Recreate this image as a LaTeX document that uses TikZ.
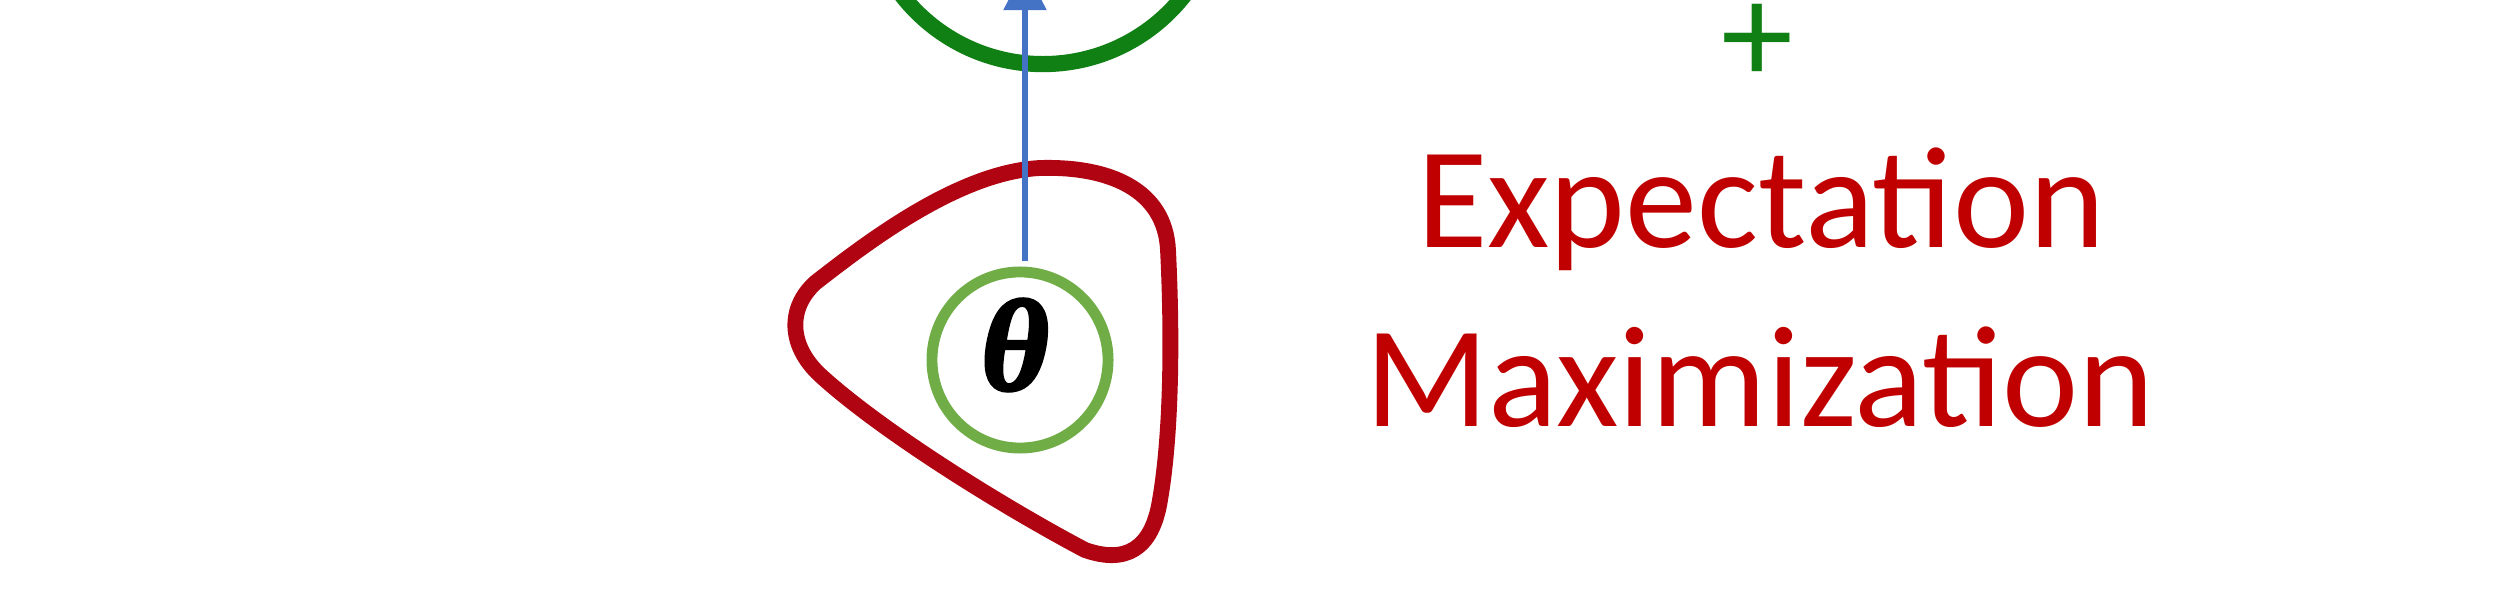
\documentclass[tikz,border=0pt]{standalone}
\usepackage{amsmath}
\usepackage{fontspec}
\newfontfamily\calfont{Carlito}
\newfontfamily\grkfont[BoldItalicFeatures={FakeBold=2.5}]{Liberation Serif}
\usetikzlibrary{arrows.meta,positioning}
\definecolor{ringgreen}{RGB}{16,128,20}
\definecolor{leafgreen}{RGB}{112,173,71}
\definecolor{emred}{RGB}{192,0,0}
\definecolor{blobred}{RGB}{176,4,18}
\definecolor{arrblue}{RGB}{68,114,196}

\begin{document}
\begin{tikzpicture}[
                x=0.01cm, y=0.01cm,
                bigring/.style={circle, draw=ringgreen, line width=4.6pt, minimum size=3.58cm, inner sep=0pt},
                thetaring/.style={circle, draw=leafgreen, line width=3.1pt, minimum size=1.76cm, inner sep=0pt},
                emtext/.style={font=\calfont\fontsize{41}{49}\selectfont, text=emred, anchor=base, inner sep=0pt},
                arr/.style={-{Triangle[length=12pt, width=12pt]}, line width=1.5pt, draw=arrblue, fill=arrblue},
            ]
            \useasboundingbox (0,0) rectangle (2500,600);
            \node[bigring] (upper) at (1043,715) {};
            \node[thetaring] (param) at (1020,240) {};
            \node[inner sep=0pt, font=\grkfont\bfseries\itshape\fontsize{37}{37}\selectfont] (theta) at (1015,255) {θ};
            \coordinate (tip) at (1025,632);

            % region around theta
            \draw[draw=blobred, line width=4.5pt]
                (815,317) .. controls (870,360) and (960,428) .. (1040,432)
                .. controls (1110,434) and (1165,410) .. (1168,350)
                .. controls (1172,270) and (1172,170) .. (1160,100)
                .. controls (1152,50) and (1125,36) .. (1085,50)
                .. controls (1000,95) and (880,170) .. (820,225)
                .. controls (788,255) and (788,292) .. cycle;

            \draw[arr, shorten <=0.5mm] (param.north -| tip) -- (tip);

            \node[font=\calfont\fontsize{41}{49}\selectfont, text=ringgreen, anchor=base, inner sep=0pt] (plus) at (1757,516) {+};
            \node[emtext] (expect) at (1761,352) {Expectation};
            \node[emtext] (maxim) at (1760,173) {Maximization};
        \end{tikzpicture}
\end{document}
